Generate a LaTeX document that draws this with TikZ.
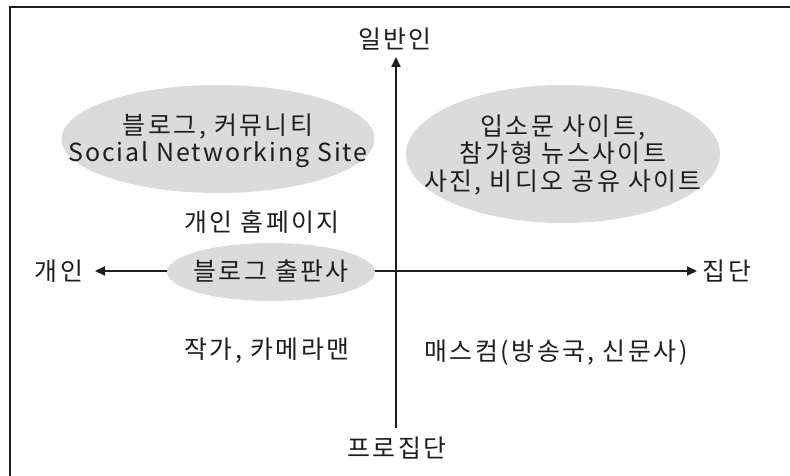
\documentclass[tikz,border=0pt]{standalone}
\usepackage{fontspec}
\setmainfont[LetterSpace=10]{Noto Sans CJK KR}
\newfontfamily\widelatin[LetterSpace=8]{Noto Sans CJK KR}
\usetikzlibrary{arrows.meta}
\definecolor{ellfill}{RGB}{219,219,219}
\definecolor{ink}{RGB}{30,30,30}
\tikzset{
  axisline/.style={line width=2bp, draw=ink, -{Triangle[length=10bp,width=9bp]}},
  blobfill/.style={fill=ellfill, draw=none},
  lbl/.style={inner sep=0pt, text=ink, align=center, font=\fontsize{25}{28}\selectfont}
}
\begin{document}
\begin{tikzpicture}[x=1bp,y=-1bp]
\useasboundingbox (0,0) rectangle (790,476);
\fill[white] (0,0) rectangle (790,476);
% frame (only left and top visible)
\draw[line width=2bp, ink] (10,476) -- (10,7) -- (790,7);
% axes
\coordinate (vb) at (396,428);
\coordinate (vt) at (396,57);
\coordinate (hl) at (95,271);
\coordinate (hr) at (697,271);
\draw[axisline] (vb) -- (vt);
\draw[axisline, {Triangle[length=10bp,width=9bp]}-{Triangle[length=10bp,width=9bp]}] (hl) -- (hr);
% ellipses
\fill[blobfill] (218,139) ellipse [x radius=156.5, y radius=54];
\fill[blobfill] (563,154) ellipse [x radius=157, y radius=69];
\fill[blobfill] (271,272) ellipse [x radius=104, y radius=29];
\node[lbl] (sns) at (218,141)
  {블로그, 커뮤니티\\[-1bp]{\widelatin Social Networking Site}};
\node[lbl] (news) at (563,155)
  {입소문 사이트,\\참가형 뉴스사이트\\사진, 비디오 공유 사이트};
\node[lbl] (pub) at (271,271) {블로그 출판사};
% labels
\node[lbl] (top) at (395,39) {일반인};
\node[lbl] (bottom) at (397,448) {프로집단};
\node[lbl] (left) at (59,271) {개인};
\node[lbl] (right) at (727,271) {집단};
\node[lbl] (home) at (262,222) {개인 홈페이지};
\node[lbl] (writer) at (267,351) {작가, 카메라맨};
\node[lbl] (mass) at (556,353) {매스컴(방송국, 신문사)};
\end{tikzpicture}
\end{document}
